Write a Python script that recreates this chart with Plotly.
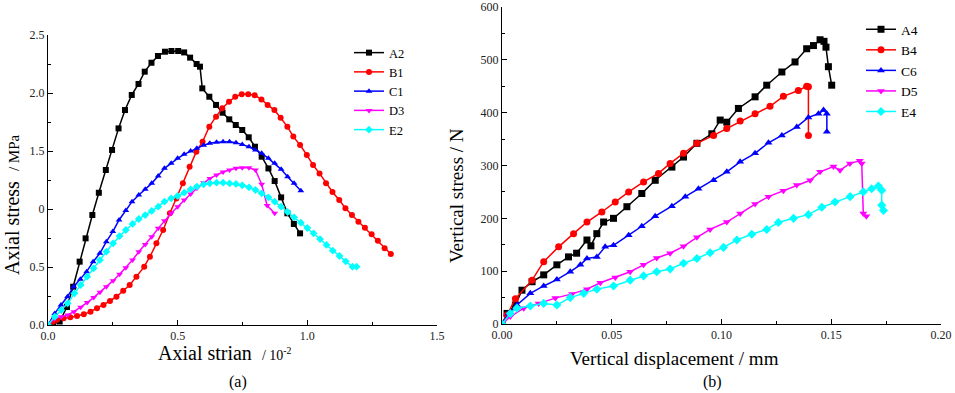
import plotly.graph_objects as go

# ---------------- Panel (a) data ----------------
a2_x = [0, 0.02, 0.045, 0.073, 0.097, 0.122, 0.145, 0.171, 0.196, 0.223, 0.247, 0.272, 0.297, 0.323, 0.349, 0.373,
        0.399, 0.424, 0.451, 0.476, 0.502, 0.525, 0.548, 0.573, 0.586, 0.595, 0.622, 0.648, 0.673, 0.699, 0.724,
        0.749, 0.774, 0.798, 0.824, 0.85, 0.874, 0.899, 0.923, 0.948, 0.972]
a2_y = [0, 0.01, 0.03, 0.155, 0.33, 0.546, 0.747, 0.948, 1.14, 1.336, 1.509, 1.695, 1.853, 1.983, 2.078, 2.184,
        2.261, 2.319, 2.356, 2.362, 2.362, 2.35, 2.305, 2.25, 2.227, 2.04, 1.968, 1.897, 1.83, 1.773, 1.724,
        1.681, 1.618, 1.537, 1.451, 1.35, 1.241, 1.1, 0.963, 0.871, 0.79]

b1_x = [0, 0.019, 0.035, 0.06, 0.086, 0.112, 0.138, 0.164, 0.189, 0.214, 0.239, 0.264, 0.29, 0.315, 0.341, 0.371,
        0.393, 0.418, 0.444, 0.47, 0.495, 0.52, 0.546, 0.572, 0.596, 0.622, 0.648, 0.672, 0.698, 0.722, 0.747,
        0.772, 0.797, 0.823, 0.847, 0.873, 0.897, 0.923, 0.946, 0.972, 0.998, 1.022, 1.047, 1.072, 1.097, 1.123,
        1.147, 1.172, 1.197, 1.222, 1.248, 1.272, 1.298, 1.322]
b1_y = [0, 0.029, 0.045, 0.058, 0.066, 0.078, 0.092, 0.115, 0.144, 0.172, 0.207, 0.244, 0.296, 0.345, 0.417, 0.503,
        0.589, 0.704, 0.819, 0.963, 1.09, 1.221, 1.365, 1.494, 1.58, 1.71, 1.796, 1.868, 1.925, 1.968, 1.989,
        1.989, 1.98, 1.945, 1.897, 1.853, 1.787, 1.71, 1.624, 1.552, 1.466, 1.379, 1.307, 1.221, 1.147, 1.078,
        1.006, 0.948, 0.891, 0.839, 0.782, 0.727, 0.661, 0.612]

c1_x = [0, 0.026, 0.05, 0.075, 0.099, 0.125, 0.149, 0.174, 0.2, 0.225, 0.25, 0.274, 0.3, 0.324, 0.35, 0.375, 0.4,
        0.425, 0.449, 0.475, 0.5, 0.525, 0.55, 0.574, 0.6, 0.624, 0.65, 0.675, 0.7, 0.725, 0.749, 0.775, 0.8,
        0.824, 0.85, 0.874, 0.899, 0.924, 0.949, 0.975]
c1_y = [0, 0.1, 0.172, 0.244, 0.33, 0.394, 0.46, 0.546, 0.618, 0.718, 0.805, 0.905, 0.986, 1.063, 1.121, 1.17, 1.221,
        1.284, 1.351, 1.394, 1.437, 1.471, 1.5, 1.523, 1.549, 1.566, 1.575, 1.58, 1.58, 1.572, 1.557, 1.537, 1.509,
        1.48, 1.437, 1.394, 1.342, 1.279, 1.221, 1.158]

d3_x = [0, 0.026, 0.051, 0.076, 0.1, 0.126, 0.151, 0.176, 0.2, 0.225, 0.251, 0.276, 0.3, 0.326, 0.35, 0.375, 0.4,
        0.425, 0.449, 0.475, 0.5, 0.525, 0.55, 0.574, 0.6, 0.624, 0.65, 0.675, 0.7, 0.725, 0.749, 0.775, 0.8,
        0.824, 0.845, 0.874]
d3_y = [0, 0.057, 0.072, 0.086, 0.115, 0.152, 0.193, 0.236, 0.282, 0.33, 0.382, 0.437, 0.494, 0.56, 0.632, 0.695,
        0.761, 0.833, 0.899, 0.963, 1.02, 1.078, 1.129, 1.178, 1.227, 1.264, 1.293, 1.319, 1.336, 1.351, 1.356,
        1.356, 1.336, 1.213, 1.03, 0.963]

e2_x = [0, 0.026, 0.051, 0.076, 0.102, 0.126, 0.151, 0.176, 0.2, 0.225, 0.251, 0.276, 0.3, 0.326, 0.35, 0.375, 0.4,
        0.425, 0.449, 0.475, 0.5, 0.525, 0.55, 0.574, 0.6, 0.624, 0.65, 0.675, 0.7, 0.725, 0.749, 0.775, 0.8,
        0.824, 0.85, 0.874, 0.899, 0.924, 0.949, 0.975, 1.0, 1.024, 1.049, 1.074, 1.098, 1.124, 1.148, 1.174, 1.19]
e2_y = [0, 0.072, 0.129, 0.187, 0.273, 0.345, 0.417, 0.489, 0.56, 0.632, 0.704, 0.767, 0.819, 0.871, 0.914, 0.948,
        0.983, 1.02, 1.063, 1.092, 1.112, 1.141, 1.17, 1.193, 1.213, 1.221, 1.227, 1.227, 1.221, 1.216, 1.204,
        1.187, 1.164, 1.135, 1.101, 1.063, 1.02, 0.974, 0.928, 0.882, 0.836, 0.79, 0.741, 0.69, 0.641, 0.595,
        0.549, 0.503, 0.503]

a_names = ["A2", "B1", "C1", "D3", "E2"]
a_tickvals = [0, 0.5, 1.0, 1.5, 2.0, 2.5]
a_ticktext = ["0.0", "0.5", "0", "1.5", "2.0", "2.5"]
a_xticks = [0, 0.5, 1.0, 1.5]
a_xticktext = ["0.0", "0.5", "1.0", "1.5"]

# ---------------- Panel (b) data ----------------
a4_x = [0, 0.0023, 0.0061, 0.0091, 0.0137, 0.019, 0.025, 0.0303, 0.034, 0.0387, 0.0405, 0.0432, 0.0463, 0.0508,
        0.0569, 0.0637, 0.0698, 0.0774, 0.0827, 0.0888, 0.0956, 0.0994, 0.1024, 0.1077, 0.1153, 0.1206, 0.1275,
        0.1335, 0.1388, 0.1419, 0.1449, 0.1467, 0.1476, 0.1487, 0.1502]
a4_y = [0, 20, 36, 64, 80, 93, 112, 127, 134, 159, 148, 171, 193, 200, 222, 247, 272, 297, 316, 342, 360, 386, 382,
        408, 430, 452, 477, 496, 521, 527, 538, 535, 524, 487, 452]

b4_x = [0, 0.0023, 0.0061, 0.0137, 0.019, 0.0258, 0.0326, 0.0387, 0.0455, 0.0516, 0.0577, 0.0645, 0.0713, 0.0766,
        0.0827, 0.0888, 0.0964, 0.1024, 0.1085, 0.1153, 0.1221, 0.1282, 0.135, 0.1388, 0.1396, 0.1396]
b4_y = [0, 17, 48, 83, 118, 146, 171, 193, 212, 231, 250, 269, 285, 304, 323, 342, 357, 370, 384, 398, 412, 431,
        442, 450, 449, 357]

c6_x = [0, 0.003, 0.0068, 0.0129, 0.019, 0.025, 0.0311, 0.0357, 0.0387, 0.0432, 0.047, 0.0508, 0.0577, 0.0637,
        0.0698, 0.0774, 0.0835, 0.0895, 0.0964, 0.1024, 0.1085, 0.1153, 0.1214, 0.1275, 0.1343, 0.1396, 0.1442,
        0.1465, 0.148, 0.148]
c6_y = [0, 20, 36, 58, 72, 84, 99, 112, 124, 127, 146, 149, 168, 185, 204, 223, 241, 256, 272, 288, 307, 323, 343,
        357, 373, 391, 398, 405, 398, 364]

d5_x = [0, 0.0038, 0.0099, 0.0167, 0.0243, 0.0319, 0.0387, 0.0448, 0.0516, 0.0584, 0.0645, 0.0705, 0.0766, 0.0827,
        0.0888, 0.0948, 0.1024, 0.1085, 0.1153, 0.1214, 0.1282, 0.1343, 0.1404, 0.1449, 0.151, 0.154, 0.1585,
        0.163, 0.1639, 0.1646, 0.166]
d5_y = [0, 14, 30, 39, 49, 57, 66, 78, 88, 99, 112, 125, 134, 147, 164, 179, 193, 209, 227, 241, 252, 263, 272, 288,
        298, 291, 304, 309, 304, 209, 204]

e4_x = [0, 0.0038, 0.0068, 0.0129, 0.019, 0.025, 0.0311, 0.0372, 0.0432, 0.0508, 0.0584, 0.0645, 0.0705, 0.0766,
        0.0827, 0.0888, 0.0948, 0.1009, 0.107, 0.1138, 0.1206, 0.1259, 0.1328, 0.1396, 0.1457, 0.1517, 0.1586,
        0.1646, 0.1684, 0.1715, 0.173, 0.173, 0.1738]
e4_y = [0, 20, 30, 34, 39, 36, 50, 58, 66, 72, 83, 91, 99, 104, 115, 124, 135, 145, 159, 170, 179, 192, 200, 207,
        221, 231, 241, 250, 256, 261, 253, 225, 215]

b_names = ["A4", "B4", "C6", "D5", "E4"]
b_xticks = [0, 0.05, 0.10, 0.15, 0.20]
b_yticks = [0, 100, 200, 300, 400, 500, 600]

colors = ["#000000", "#FF0000", "#0000FF", "#FF00FF", "#00FFFF"]
symbols = ["square", "circle", "triangle-up", "triangle-down", "diamond"]

W, H = 955, 393
FONT = "Liberation Serif, Times New Roman, serif"

fig = go.Figure()

a_series = [(a2_x, a2_y), (b1_x, b1_y), (c1_x, c1_y), (d3_x, d3_y), (e2_x, e2_y)]
for (xs, ys), name, c, s in zip(a_series, a_names, colors, symbols):
    fig.add_trace(go.Scatter(x=xs, y=ys, name=name, mode="lines+markers", xaxis="x", yaxis="y",
                             line=dict(color=c, width=1.5), marker=dict(symbol=s, size=6, color=c),
                             legend="legend"))

b_series = [(a4_x, a4_y), (b4_x, b4_y), (c6_x, c6_y), (d5_x, d5_y), (e4_x, e4_y)]
for (xs, ys), name, c, s in zip(b_series, b_names, colors, symbols):
    fig.add_trace(go.Scatter(x=xs, y=ys, name=name, mode="lines+markers", xaxis="x2", yaxis="y2",
                             line=dict(color=c, width=1.5), marker=dict(symbol=s, size=7, color=c),
                             legend="legend2"))


def px_x(p):
    return min(1.0, max(0.0, p / W))


def px_y(p):
    return min(1.0, max(0.0, 1 - p / H))


axis_common = dict(showline=True, linecolor="#000000", linewidth=1, ticks="inside", ticklen=5, tickwidth=1,
                   tickcolor="#000000", showgrid=False, zeroline=False, mirror=False, automargin=False,
                   tickfont=dict(family=FONT, size=12, color="#222222"))

fig.update_layout(
    width=W, height=H, margin=dict(l=0, r=0, t=0, b=0, pad=0, autoexpand=False),
    paper_bgcolor="white", plot_bgcolor="white",
    font=dict(family=FONT, color="#000000"),
    xaxis=dict(domain=[px_x(48), px_x(437)], range=[0, 1.5], anchor="y", tickvals=a_xticks,
               ticktext=a_xticktext, minor=dict(ticks="inside", ticklen=3, dtick=0.25, tickcolor="#000000"),
               **axis_common),
    yaxis=dict(domain=[px_y(325), px_y(35)], range=[0, 2.5], anchor="x", tickvals=a_tickvals,
               ticktext=a_ticktext, minor=dict(ticks="inside", ticklen=3, dtick=0.25, tickcolor="#000000"),
               **axis_common),
    xaxis2=dict(domain=[px_x(502), px_x(941)], range=[0, 0.2], anchor="y2", tickvals=b_xticks,
                tickformat=".2f", minor=dict(ticks="inside", ticklen=3, dtick=0.025, tickcolor="#000000"),
                **axis_common),
    yaxis2=dict(domain=[px_y(324), px_y(7)], range=[0, 600], anchor="x2", tickvals=b_yticks,
                minor=dict(ticks="inside", ticklen=3, dtick=50, tickcolor="#000000"),
                **axis_common),
    legend=dict(x=px_x(349), y=px_y(38), xanchor="left", yanchor="top", bgcolor="rgba(0,0,0,0)",
                font=dict(family=FONT, size=12.5, color="#000000"), tracegroupgap=0, itemwidth=30),
    legend2=dict(x=px_x(861), y=px_y(14), xanchor="left", yanchor="top", bgcolor="rgba(0,0,0,0)",
                 font=dict(family=FONT, size=13.5, color="#000000"), tracegroupgap=0, itemwidth=30),
    showlegend=True,
)

annotations = [
    dict(text="Axial stress  <span style='font-size:15px'>/ MPa</span>", x=px_x(12), y=px_y(205), textangle=-90,
         font=dict(size=20)),
    dict(text="Axial strian  <span style='font-size:14px'>/ 10<sup>-2</sup></span>", x=px_x(225), y=px_y(353),
         font=dict(size=20)),
    dict(text="Vertical stress / N", x=px_x(456), y=px_y(196), textangle=-90, font=dict(size=19)),
    dict(text="Vertical displacement / mm", x=px_x(674), y=px_y(358), font=dict(size=19)),
    dict(text="(a)", x=px_x(238), y=px_y(382), font=dict(size=16)),
    dict(text="(b)", x=px_x(712), y=px_y(382), font=dict(size=16)),
]
for a in annotations:
    a.update(xref="paper", yref="paper", showarrow=False, xanchor="center", yanchor="middle")
    a["font"].update(family=FONT, color="#000000")
fig.update_layout(annotations=annotations)

# remove the browser's default 8px page margin so the figure sits at the window's corner
fig.write_html("out.html", config={"displayModeBar": False},
               post_script="document.body.style.margin='0';")
